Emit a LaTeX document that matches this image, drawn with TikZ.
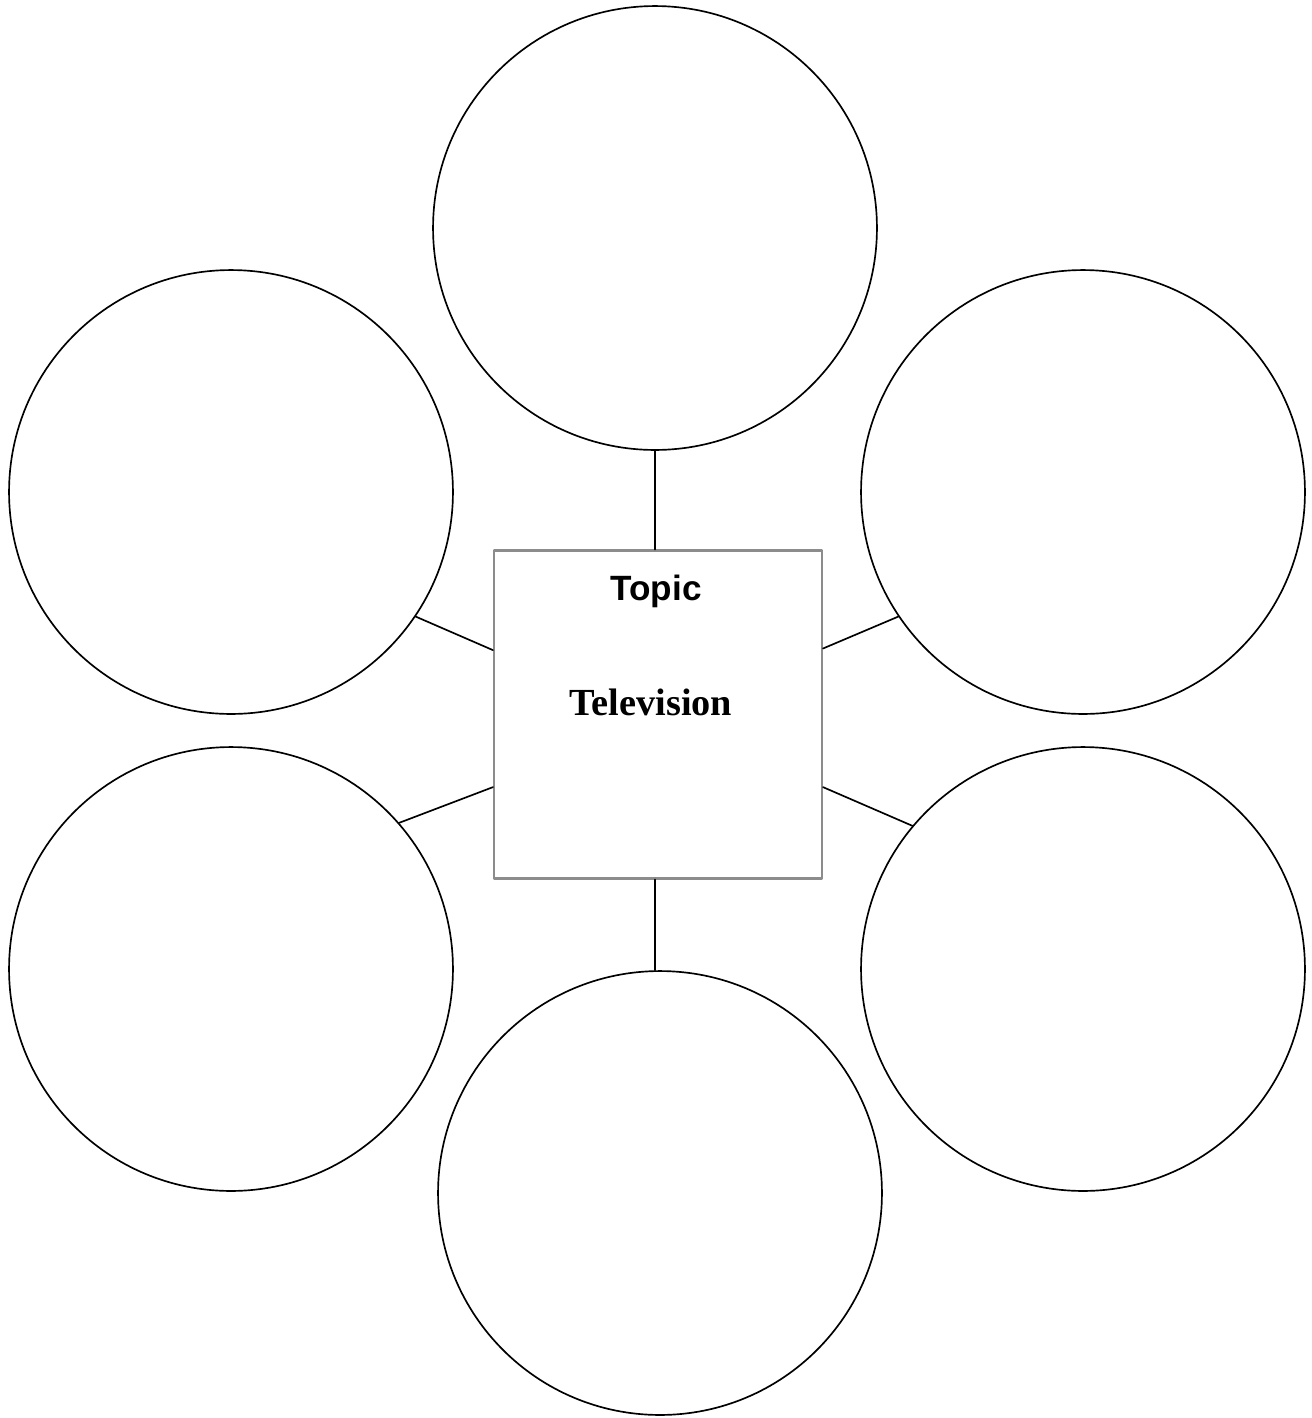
\documentclass[tikz,border=0pt]{standalone}
\usepackage{fontspec}
\usetikzlibrary{calc}
\newfontfamily\topicfont{Liberation Sans}
\newfontfamily\titlefont{Liberation Serif}
\begin{document}
\begin{tikzpicture}[x=0.02cm,y=-0.02cm,line join=round,line cap=round]
	\tikzset{bubble/.style={circle,draw=black,line width=0.95pt,minimum size=8.88cm,inner sep=0pt},
		topicbox/.style={draw=gray!90,line width=1.2pt,minimum size=6.56cm,inner sep=0pt},
		link/.style={black,line width=0.95pt}}
	\useasboundingbox (0,0) rectangle (1312,1418);
	% centre box
	\node[topicbox] (topic) at (658,714.5) {};
	\node[anchor=base] (head) at (656,600) {\topicfont\bfseries\fontsize{20}{24}\selectfont Topic};
	\node[anchor=base] (title) at (651,715) {\titlefont\bfseries\fontsize{21.8}{26}\selectfont Television};
	% bubbles
	\node[bubble] (top) at (655,228) {};
	\node[bubble] (ul) at (231,492) {};
	\node[bubble] (ur) at (1083,492) {};
	\node[bubble] (ll) at (231,969) {};
	\node[bubble] (lr) at (1083,969) {};
	\node[bubble] (bot) at (660,1193) {};
	% links
	\coordinate (botlink) at ($(topic.south)+(-3,0)$);
	\draw[link] (top.south) -- (top.south |- topic.north);
	\draw[link] (ul.-34) -- ($(topic.north west)!0.305!(topic.south west)$);
	\draw[link] (ur.214) -- ($(topic.north east)!0.30!(topic.south east)$);
	\draw[link] (ll.41) -- ($(topic.north west)!0.72!(topic.south west)$);
	\draw[link] (lr.140) -- ($(topic.north east)!0.72!(topic.south east)$);
	\draw[link] (botlink) -- (botlink |- bot.north);
\end{tikzpicture}
\end{document}
